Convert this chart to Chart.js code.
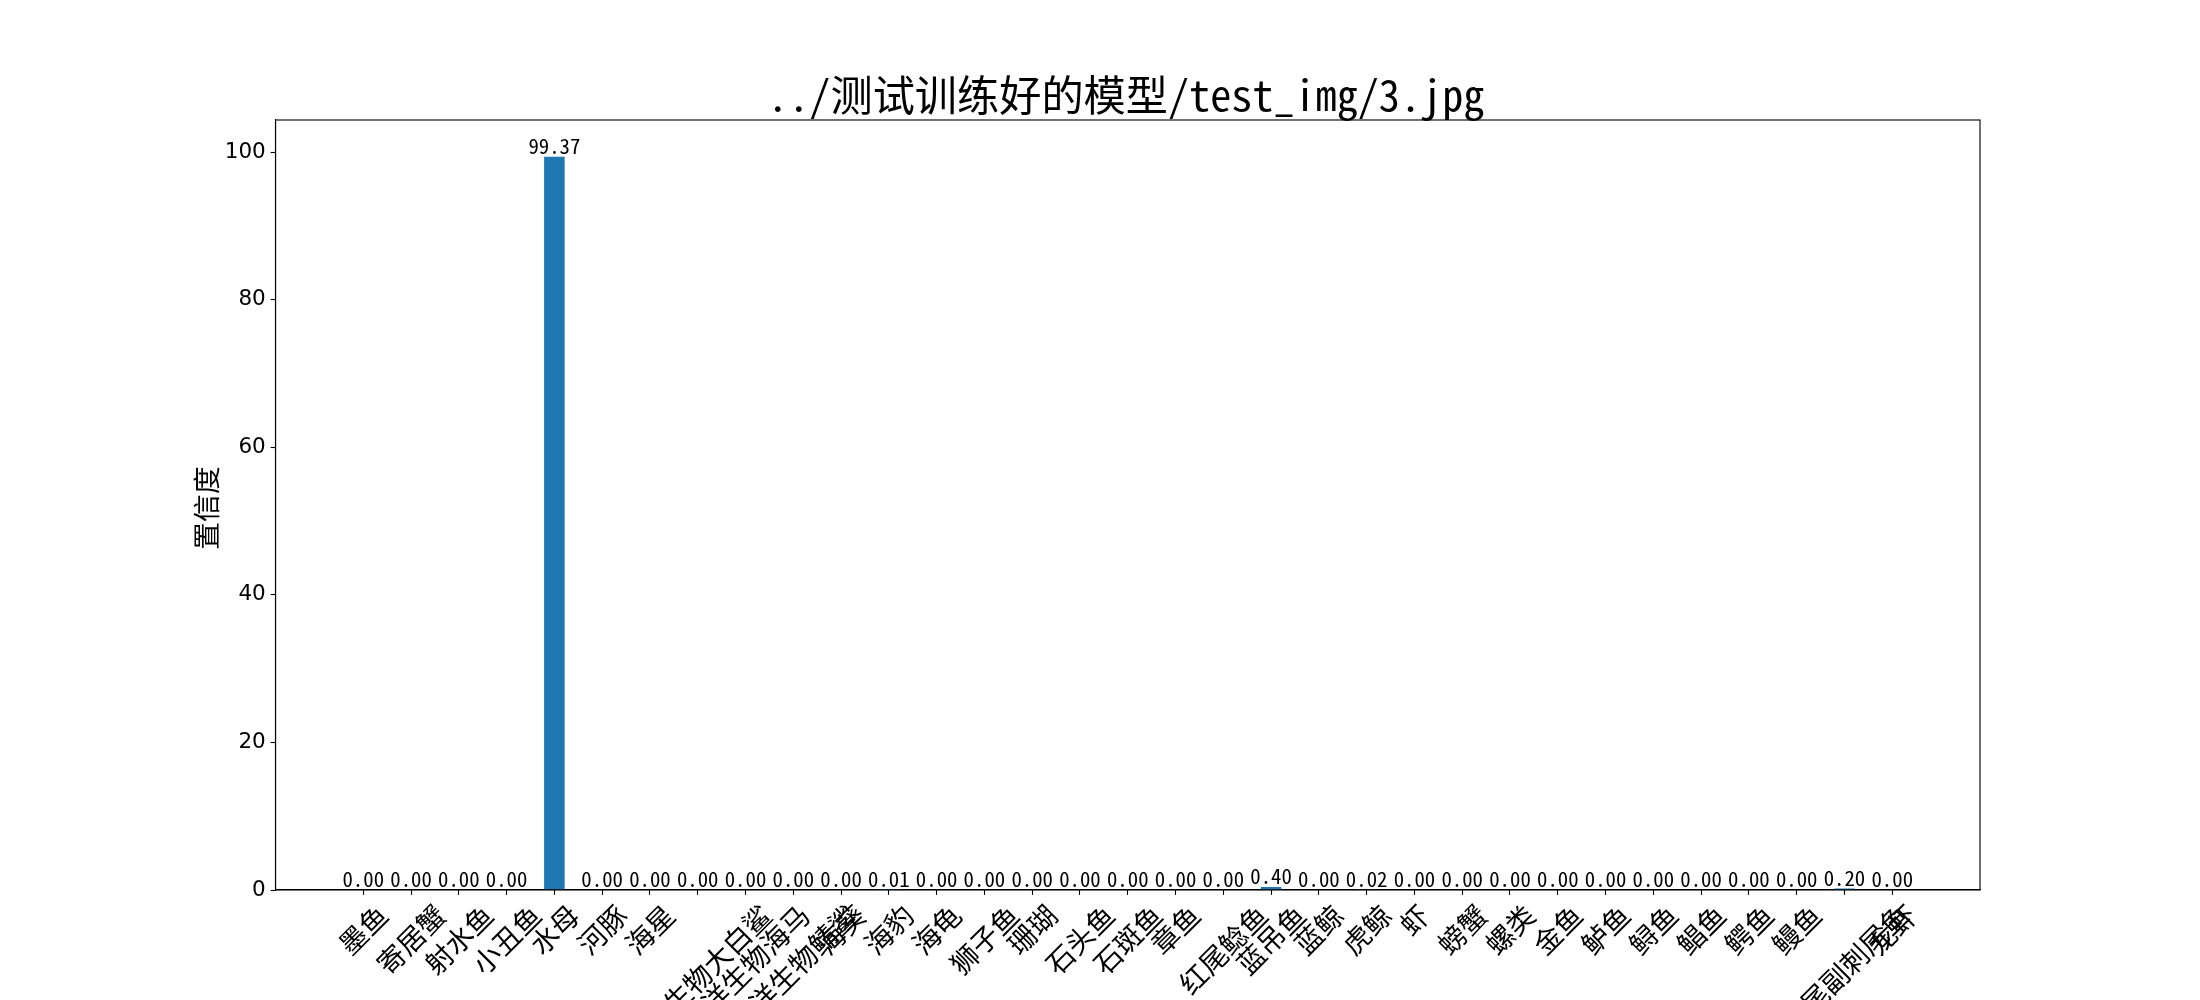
<!DOCTYPE html>
<html>
<head>
<meta charset="utf-8">
<script src="https://cdn.jsdelivr.net/npm/chart.js@4/dist/chart.umd.min.js"></script>
<style>
html,body{margin:0;padding:0;background:#fff;}
#wrap{width:2200px;height:1000px;}
</style>
</head>
<body>
<div id="wrap"><canvas id="c" width="2200" height="1000"></canvas></div>
<script>
const categories = ['墨鱼','寄居蟹','射水鱼','小丑鱼','水母','河豚','海星','海洋生物大白鲨','海洋生物海马','海洋生物鲭鲨','海葵','海豹','海龟','狮子鱼','珊瑚','石头鱼','石斑鱼','章鱼','红尾鲶鱼','蓝吊鱼','蓝鲸','虎鲸','虾','螃蟹','螺类','金鱼','鲈鱼','鲟鱼','鲳鱼','鳄鱼','鳗鱼','黄尾副刺尾鱼','龙虾'];
const confidence = [0,0,0,0,99.37,0,0,0,0,0,0,0.01,0,0,0,0,0,0,0,0.40,0,0.02,0,0,0,0,0,0,0,0,0,0.20,0];
const yTickValues = [0,20,40,60,80,100];
const titleText = '../测试训练好的模型/test_img/3.jpg';
const yAxisLabel = '置信度';

const barColor = '#1f77b4';
const barWidthUnits = 0.43;
const FONT_CJK = "'Noto Sans Mono CJK SC','Noto Sans CJK SC',sans-serif";
const n = categories.length;
const xMargin = barWidthUnits / 2 + 0.05 * (n - 1 + barWidthUnits);
const yMax = Math.max(...confidence) * 1.05;
const PT = 100 / 72;
const TICK_LEN = 3.5 * PT;
const TICK_PAD = 3.5 * PT;
const LINE_W = 0.8 * PT;
const XTICK_SIZE = 27.8;

const mplTickLabels = {
  id: 'mplTickLabels',
  beforeDraw(chart) {
    const xs = chart.scales.x;
    const items = xs.getLabelItems();
    if (items._mpl) return;
    const c = chart.ctx;
    const yTop = xs.top + TICK_LEN + TICK_PAD;
    const H = XTICK_SIZE * 1.05;
    items.forEach((it, i) => {
      c.save();
      c.font = it.font.string;
      const L = c.measureText(it.label).width;
      c.restore();
      const x0 = xs.getPixelForValue(xs.ticks[i].value);
      it.options.translation = [x0 + 0.3536 * L, yTop + 0.3536 * H];
      it.options.textAlign = 'right';
      it.options.textBaseline = 'middle';
      it.textOffset = 0;
    });
    items._mpl = true;
  }
};

const extras = {
  id: 'extras',
  afterDatasetsDraw(chart) {
    const c = chart.ctx;
    const meta = chart.getDatasetMeta(0);
    c.save();
    c.fillStyle = '#000';
    c.font = "20.8px " + FONT_CJK;
    c.textAlign = 'center';
    c.textBaseline = 'alphabetic';
    meta.data.forEach((el, i) => {
      c.fillText(confidence[i].toFixed(2), el.x, el.y - 3);
    });
    c.restore();
  },
  afterDraw(chart) {
    const c = chart.ctx;
    const a = chart.chartArea;
    c.save();
    c.strokeStyle = '#000';
    c.lineWidth = LINE_W;
    c.strokeRect(a.left, a.top, a.right - a.left, a.bottom - a.top);
    // title
    c.fillStyle = '#000';
    c.font = "42.2px " + FONT_CJK;
    c.textAlign = 'center';
    c.textBaseline = 'alphabetic';
    c.fillText(titleText, (a.left + a.right) / 2 - 2, 111);
    // y axis label
    c.translate(206, (a.top + a.bottom) / 2 + 3);
    c.rotate(-Math.PI / 2);
    c.font = "27.8px " + FONT_CJK;
    c.textBaseline = 'middle';
    c.fillText(yAxisLabel, 0, 0);
    c.restore();
  }
};

new Chart(document.getElementById('c'), {
  type: 'bar',
  data: {
    datasets: [{
      data: confidence.map((v, i) => ({x: i, y: v})),
      backgroundColor: barColor,
      borderWidth: 0,
      categoryPercentage: 1,
      barPercentage: barWidthUnits
    }]
  },
  options: {
    responsive: false,
    animation: false,
    devicePixelRatio: 1,
    layout: {padding: {left: 0, right: 220, top: 120, bottom: 0}},
    plugins: {legend: {display: false}, tooltip: {enabled: false}, title: {display: false}},
    scales: {
      x: {
        type: 'linear',
        bounds: 'data',
        min: -xMargin,
        max: n - 1 + xMargin,
        offset: false,
        grid: {display: true, drawOnChartArea: false, offset: false, tickLength: TICK_LEN, tickWidth: LINE_W, tickColor: '#000'},
        border: {display: true, color: '#000', width: LINE_W},
        afterBuildTicks: s => { s.ticks = categories.map((c, i) => ({value: i})); },
        afterFit: s => { s.height = 110; },
        ticks: {
          autoSkip: false, maxRotation: 45, minRotation: 45, padding: TICK_PAD, color: '#000',
          font: {family: FONT_CJK, size: XTICK_SIZE},
          callback: v => categories[v]
        }
      },
      y: {
        type: 'linear',
        min: 0,
        max: yMax,
        grid: {display: true, drawOnChartArea: false, tickLength: TICK_LEN, tickWidth: LINE_W, tickColor: '#000'},
        border: {display: true, color: '#000', width: LINE_W},
        afterBuildTicks: s => { s.ticks = yTickValues.map(v => ({value: v})); },
        afterFit: s => { s.width = 275.5; },
        ticks: {padding: TICK_PAD, color: '#000', font: {family: "'DejaVu Sans'", size: 21.5}}
      }
    }
  },
  plugins: [mplTickLabels, extras]
});
</script>
</body>
</html>
